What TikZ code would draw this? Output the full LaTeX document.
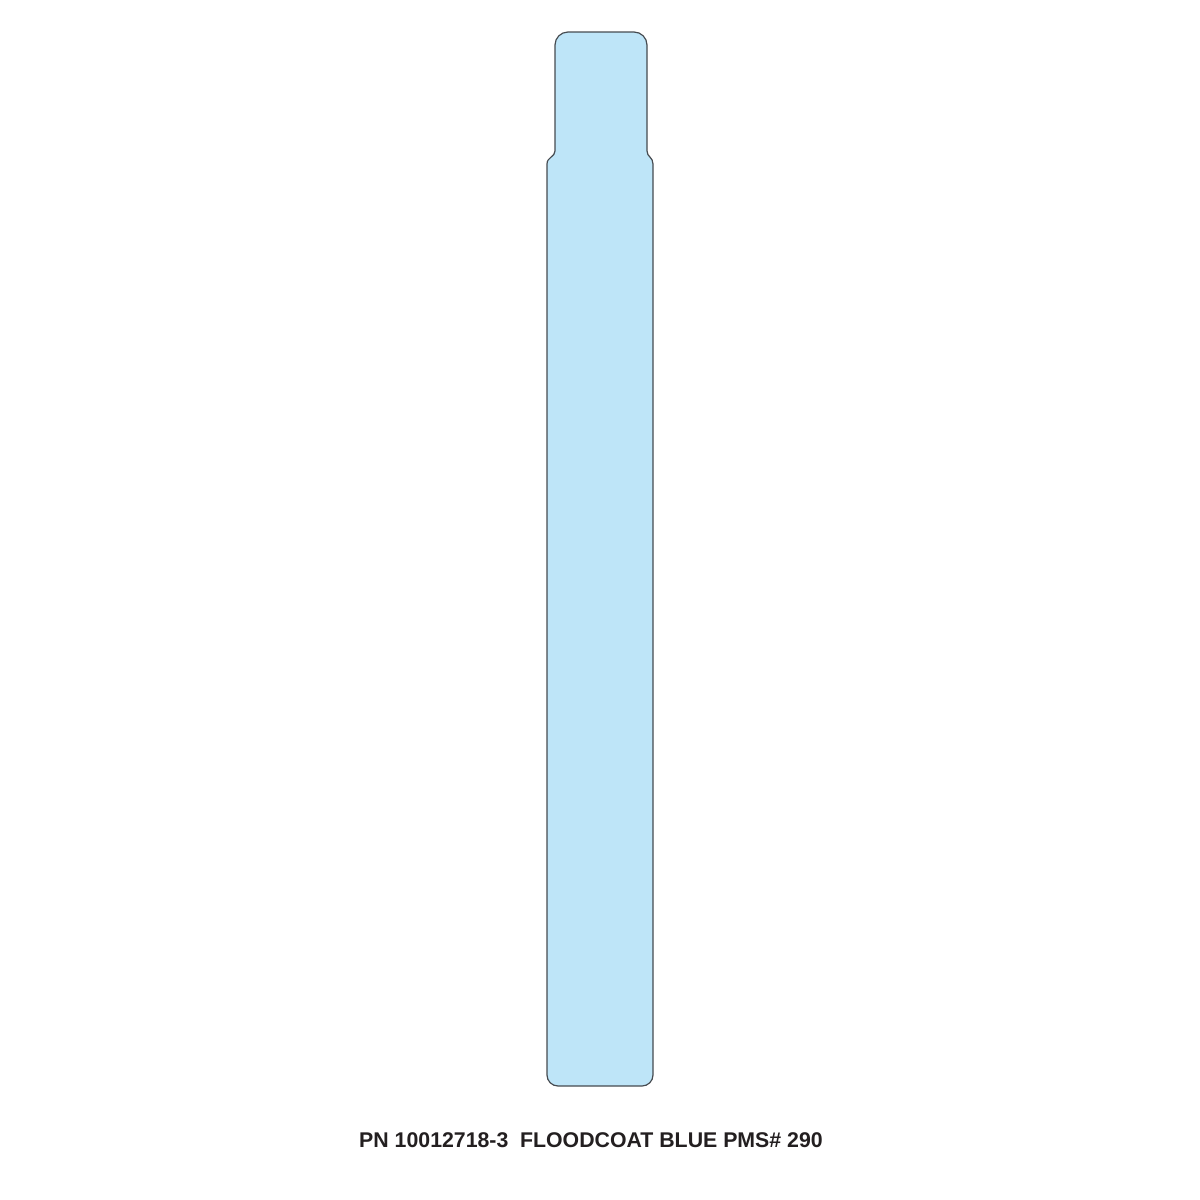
\documentclass[tikz,border=0pt]{standalone}
\usepackage{fontspec}
\setmainfont{Liberation Sans}
\definecolor{flood}{RGB}{190,229,248}
\definecolor{edge}{RGB}{70,75,80}
\definecolor{txt}{RGB}{35,31,32}
\begin{document}
\begin{tikzpicture}[x=1pt,y=-1pt,
  stripstyle/.style={fill=flood,draw=edge,line width=1.2pt,line join=round},
  caption/.style={font=\fontsize{21.3}{25}\selectfont\bfseries,text=txt,inner sep=0pt}]
\useasboundingbox (0,0) rectangle (1200,1200);
\path[stripstyle]
  (555,151) -- (555,45)
  arc[start angle=180,end angle=270,radius=13,y=-1pt] -- (634,32)
  arc[start angle=270,end angle=360,radius=13,y=-1pt] -- (647,151)
  .. controls (647,157) and (653,157) .. (653,164)
  -- (653,1075)
  arc[start angle=0,end angle=90,radius=11,y=-1pt] -- (558,1086)
  arc[start angle=90,end angle=180,radius=11,y=-1pt] -- (547,164)
  .. controls (547,157) and (555,157) .. (555,151) -- cycle;
\node[caption] (label) at (591,1140) {PN 10012718-3\hspace{0.55em}FLOODCOAT BLUE PMS\# 290};
\end{tikzpicture}
\end{document}
